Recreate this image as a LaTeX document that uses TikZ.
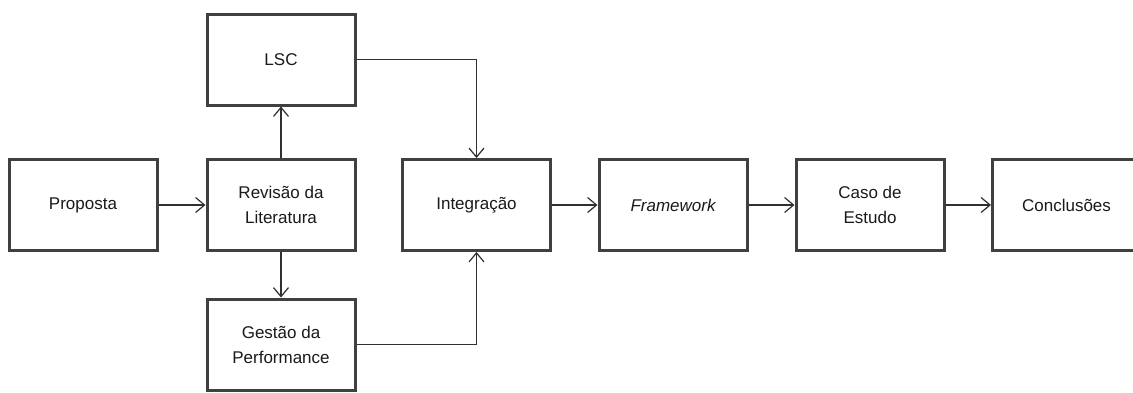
\documentclass[tikz,border=0pt]{standalone}
\usepackage{fontspec}
\setmainfont{Liberation Sans}
\usetikzlibrary{arrows.meta}
\definecolor{boxline}{HTML}{404040}
\definecolor{txt}{HTML}{1A1A1A}
\definecolor{conn}{HTML}{303030}
\begin{document}
\begin{tikzpicture}[x=1pt,y=-1pt,
  blk/.style={draw=boxline, line width=3pt, fill=white, minimum width=148pt, minimum height=91pt,
    inner sep=0pt, align=center, text=txt, font=\fontsize{17}{25}\selectfont, anchor=center},
  arr/.style={draw=conn, line width=1.2pt, -{Straight Barb[length=9pt,width=15pt,line width=1.2pt]}}]
\useasboundingbox (0,0) rectangle (1133,392);
\clip (0,0) rectangle (1133,392);
\fill[white] (0,0) rectangle (1133,392);
\node[blk] (prop) at (83,205) {Proposta};
\node[blk] (rev) at (281,205) {Revisão da\\Literatura};
\node[blk] (lsc) at (281,59.5) {LSC};
\node[blk] (ges) at (281,344.5) {Gestão da\\Performance};
\node[blk] (int) at (476.5,205) {Integração};
\node[blk] (fw) at (673,205) {\itshape Framework};
\node[blk] (caso) at (870,205) {Caso de\\Estudo};
\node[blk] (conc) at (1066.5,205) {Conclusões};
\draw[arr] (prop.east) -- (rev.west);
\draw[arr] (rev.north) -- (lsc.south);
\draw[arr] (rev.south) -- (ges.north);
\draw[arr] (lsc.east) -| (int.north);
\draw[arr] (ges.east) -| (int.south);
\draw[arr] (int.east) -- (fw.west);
\draw[arr] (fw.east) -- (caso.west);
\draw[arr] (caso.east) -- (conc.west);
\end{tikzpicture}
\end{document}
